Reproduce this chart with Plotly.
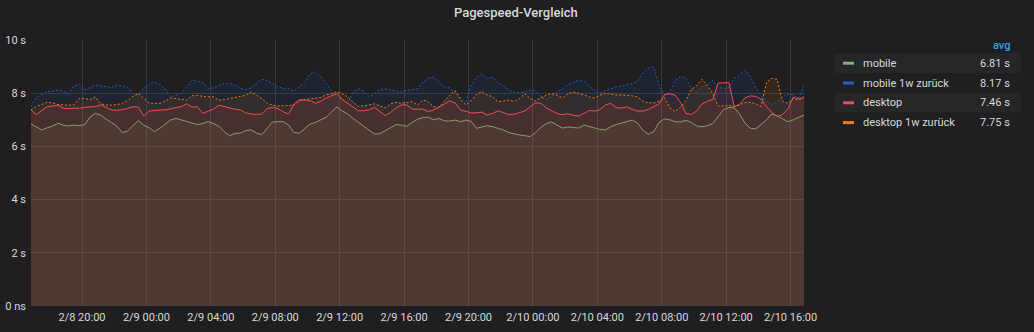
import pandas as pd
import plotly.graph_objects as go

# ---- data -------------------------------------------------------------
times = pd.date_range("2020-02-08 16:50", periods=145, freq="20min")

mobile = [
    6.84, 6.72, 6.62, 6.70, 6.76, 6.87, 6.80, 6.77, 6.80, 6.78,
    6.82, 7.11, 7.24, 7.18, 7.02, 6.90, 6.76, 6.52, 6.58, 6.78,
    6.97, 6.80, 6.70, 6.56, 6.68, 6.84, 6.99, 7.05, 7.00, 6.95,
    6.88, 6.82, 6.86, 6.93, 6.86, 6.76, 6.55, 6.40, 6.49, 6.50,
    6.60, 6.62, 6.50, 6.44, 6.68, 6.92, 6.93, 6.93, 6.80, 6.52,
    6.50, 6.68, 6.84, 6.90, 7.00, 7.10, 7.30, 7.49, 7.33, 7.22,
    7.05, 6.90, 6.74, 6.58, 6.46, 6.48, 6.60, 6.70, 6.82, 6.80,
    6.75, 6.90, 7.02, 7.08, 7.10, 7.00, 7.05, 6.96, 6.95, 6.99,
    6.93, 6.99, 6.94, 6.68, 6.72, 6.78, 6.74, 6.68, 6.62, 6.52,
    6.47, 6.43, 6.40, 6.37, 6.52, 6.72, 6.86, 6.92, 6.80, 6.69,
    6.73, 6.70, 6.69, 6.80, 6.75, 6.70, 6.64, 6.62, 6.74, 6.82,
    6.88, 6.93, 6.99, 6.87, 6.60, 6.46, 6.55, 6.90, 7.03, 7.00,
    6.93, 6.92, 6.98, 6.90, 6.77, 6.74, 6.78, 6.86, 7.12, 7.38,
    7.46, 7.45, 7.22, 6.88, 6.68, 6.66, 6.82, 7.00, 7.22, 7.15,
    7.04, 6.93, 7.00, 7.08, 7.18,
]

mobile_1w = [
    7.49, 7.84, 7.95, 8.06, 8.08, 8.12, 8.06, 7.98, 8.28, 8.32,
    8.12, 8.22, 8.30, 8.27, 8.25, 8.22, 8.31, 8.28, 8.22, 7.99,
    7.94, 8.18, 8.33, 8.42, 8.33, 8.16, 7.85, 7.92, 8.00, 8.24,
    8.48, 8.46, 8.38, 8.18, 8.20, 8.28, 8.35, 8.37, 8.30, 8.18,
    8.14, 8.20, 8.35, 8.53, 8.48, 8.36, 8.24, 8.18, 8.18, 8.06,
    8.24, 8.42, 8.72, 8.80, 8.62, 8.35, 8.10, 7.88, 7.76, 7.64,
    8.04, 8.16, 8.08, 7.86, 7.98, 8.14, 8.16, 8.12, 8.08, 8.04,
    8.10, 8.12, 8.16, 8.42, 8.57, 8.60, 8.42, 8.24, 8.20, 8.02,
    7.84, 7.66, 8.30, 8.60, 8.72, 8.55, 8.60, 8.38, 8.28, 8.10,
    8.04, 8.02, 8.05, 8.12, 8.08, 7.86, 7.76, 7.88, 8.04, 8.16,
    8.32, 8.42, 8.49, 8.44, 8.28, 8.10, 8.00, 8.10, 8.16, 8.24,
    8.27, 8.31, 8.36, 8.45, 8.76, 8.94, 8.98, 8.30, 7.92, 8.05,
    8.48, 8.62, 8.56, 8.20, 8.05, 8.25, 8.32, 8.48, 8.22, 8.18,
    8.20, 8.55, 8.72, 8.86, 8.62, 8.20, 7.92, 7.70, 7.58, 7.68,
    7.86, 7.96, 7.95, 7.82, 8.30,
]

desktop = [
    7.37, 7.20, 7.35, 7.49, 7.52, 7.55, 7.44, 7.42, 7.44, 7.43,
    7.47, 7.49, 7.50, 7.56, 7.45, 7.37, 7.36, 7.38, 7.43, 7.49,
    7.48, 7.14, 7.33, 7.36, 7.37, 7.37, 7.42, 7.47, 7.50, 7.60,
    7.48, 7.49, 7.24, 7.33, 7.40, 7.55, 7.50, 7.43, 7.40, 7.37,
    7.26, 7.22, 7.20, 7.22, 7.42, 7.47, 7.42, 7.30, 7.22, 7.60,
    7.74, 7.74, 7.72, 7.62, 7.70, 7.82, 7.92, 7.99, 7.76, 7.62,
    7.49, 7.34, 7.34, 7.38, 7.47, 7.33, 7.16, 7.28, 7.45, 7.56,
    7.56, 7.40, 7.40, 7.40, 7.31, 7.37, 7.47, 7.60, 7.71, 7.64,
    7.37, 7.32, 7.26, 7.26, 7.29, 7.18, 7.24, 7.34, 7.28, 7.20,
    7.21, 7.27, 7.33, 7.49, 7.64, 7.62, 7.45, 7.34, 7.24, 7.19,
    7.23, 7.17, 7.14, 7.24, 7.35, 7.33, 7.38, 7.56, 7.62, 7.46,
    7.44, 7.49, 7.39, 7.33, 7.33, 7.39, 7.49, 7.60, 7.95, 7.98,
    7.92, 7.66, 7.24, 7.20, 7.33, 7.60, 7.70, 7.76, 8.38, 8.40,
    8.40, 7.49, 7.58, 7.82, 7.90, 7.88, 7.78, 7.50, 7.28, 7.12,
    7.20, 7.40, 7.85, 7.80, 7.82,
]

desktop_1w = [
    7.37, 7.50, 7.58, 7.66, 7.64, 7.58, 7.56, 7.55, 7.57, 7.80,
    7.80, 7.76, 7.86, 7.60, 7.56, 7.55, 7.57, 7.62, 7.72, 7.88,
    7.99, 7.80, 7.63, 7.62, 7.62, 7.70, 7.82, 7.80, 7.76, 7.74,
    7.90, 7.92, 7.88, 7.86, 7.87, 7.74, 7.76, 7.80, 7.84, 7.86,
    7.92, 8.05, 7.92, 7.80, 7.62, 7.55, 7.52, 7.53, 7.52, 7.55,
    7.74, 7.76, 7.78, 7.80, 7.84, 7.94, 7.98, 8.06, 7.98, 7.86,
    7.66, 7.50, 7.52, 7.56, 7.60, 7.52, 7.45, 7.60, 7.66, 7.62,
    7.66, 7.68, 7.56, 7.74, 7.68, 7.49, 7.48, 7.72, 7.92, 8.10,
    7.76, 7.57, 7.72, 7.96, 8.06, 7.93, 7.87, 7.68, 7.72, 7.74,
    7.69, 7.80, 7.98, 7.80, 7.70, 7.84, 7.92, 7.99, 7.93, 7.82,
    7.98, 8.04, 8.00, 7.92, 7.86, 7.82, 7.93, 8.00, 7.96, 7.93,
    7.94, 7.93, 7.90, 7.86, 7.70, 7.64, 7.63, 7.70, 7.84, 7.45,
    7.31, 7.48, 7.72, 8.14, 8.28, 8.52, 8.28, 7.98, 7.52, 7.52,
    7.54, 7.50, 7.56, 7.65, 7.66, 7.60, 7.50, 8.40, 8.56, 8.52,
    7.70, 7.62, 7.80, 7.74, 7.86,
]

series_names = ["mobile", "mobile 1w zurück", "desktop", "desktop 1w zurück"]
series_avg = [6.81, 8.17, 7.46, 7.75]

y_ticks = [0, 2, 4, 6, 8, 10]
y_tick_text = ["0 ns", "2 s", "4 s", "6 s", "8 s", "10 s"]

# ---- styling ----------------------------------------------------------
W, H = 1034, 332
L, R, T, B = 31, 230, 40, 26
BG = "#1f1f21"
TEXT = "#d8d9da"
FONT = "Roboto"

colors = ["#7EB26D", "#1F60C4", "#F2495C", "#FF780A"]
fills = ["rgba(126,178,109,0.10)", "rgba(31,96,196,0.10)",
         "rgba(242,73,92,0.10)", "rgba(255,120,10,0.10)"]
dashes = ["solid", "2px,2px", "solid", "2px,2px"]

fig = go.Figure()
for name, vals, c, fc, d in zip(series_names,
                                [mobile, mobile_1w, desktop, desktop_1w],
                                colors, fills, dashes):
    fig.add_trace(go.Scatter(
        x=times, y=vals, name=name, mode="lines",
        line=dict(color=c, width=1, dash=d),
        fill="tozeroy", fillcolor=fc, hoverinfo="skip",
    ))

pw, ph = W - L - R, H - T - B


def px(x):
    return (x - L) / pw


def py(y):
    return 1 - (y - T) / ph


shapes = []
annotations = [
    dict(text="Pagespeed-Vergleich", x=px(516), y=py(12), xref="paper", yref="paper",
         xanchor="center", yanchor="middle", showarrow=False,
         font=dict(family=FONT, size=13, color=TEXT, weight=500)),
    dict(text="avg", x=px(1012), y=py(45), xref="paper", yref="paper",
         xanchor="right", yanchor="middle", showarrow=False,
         font=dict(family=FONT, size=11, color="#33a2e5", weight=500)),
]

for k, (name, avg, c) in enumerate(zip(series_names, series_avg, colors)):
    cy = 63.2 + 19.8 * k
    if k % 2 == 0:
        shapes.append(dict(type="rect", xref="paper", yref="paper",
                           x0=px(834), x1=px(1021), y0=py(cy - 9.8), y1=py(cy + 9.8),
                           fillcolor="#262628", line=dict(width=0), layer="below"))
    shapes.append(dict(type="rect", xref="paper", yref="paper",
                       x0=px(843), x1=px(854), y0=py(cy - 1.5), y1=py(cy + 1.5),
                       fillcolor=c, line=dict(width=0)))
    annotations.append(dict(text=name, x=px(861), y=py(cy), xref="paper", yref="paper",
                            xanchor="left", yanchor="middle", showarrow=False,
                            font=dict(family=FONT, size=11, color=TEXT)))
    annotations.append(dict(text=f"{avg:.2f} s", x=px(1012), y=py(cy), xref="paper",
                            yref="paper", xanchor="right", yanchor="middle",
                            showarrow=False, font=dict(family=FONT, size=11, color=TEXT)))

fig.update_layout(
    width=W, height=H,
    margin=dict(l=L, r=R, t=T, b=B, pad=0, autoexpand=False),
    paper_bgcolor=BG, plot_bgcolor=BG,
    showlegend=False,
    font=dict(family=FONT, size=11, color=TEXT),
    shapes=shapes, annotations=annotations,
)
fig.update_xaxes(
    type="date", range=[times[0], times[-1]],
    tick0="2020-02-08 20:00", dtick=4 * 3600 * 1000,
    tickformat="%-m/%-d %H:%M",
    showgrid=True, gridcolor="#3a3a3d", gridwidth=1,
    zeroline=False, showline=False, ticks="",
    ticklabelstandoff=3, automargin=False,
    tickfont=dict(family=FONT, size=11, color=TEXT),
)
fig.update_yaxes(
    range=[0, 10], tickvals=y_ticks, ticktext=y_tick_text,
    showgrid=True, gridcolor="#3a3a3d", gridwidth=1,
    zeroline=False, showline=False, ticks="",
    ticklabelstandoff=4, automargin=False,
    tickfont=dict(family=FONT, size=11, color=TEXT),
)

fig.write_html("out.html")
